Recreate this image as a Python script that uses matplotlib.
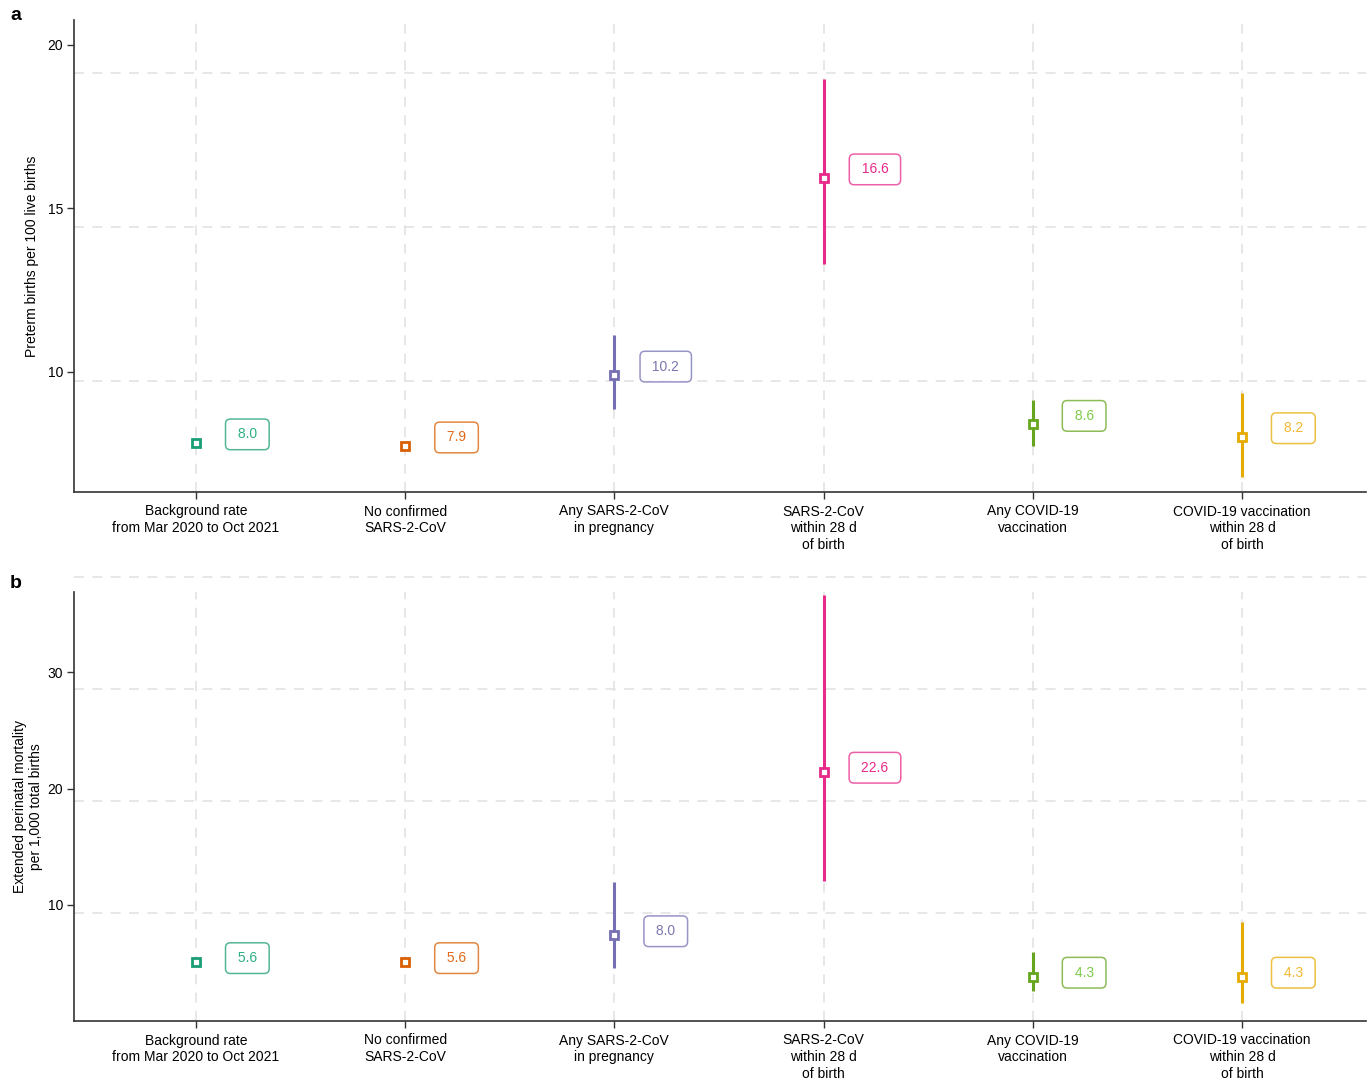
import numpy as np
import matplotlib as mpl

mpl.use("Agg")
import matplotlib.pyplot as plt

plt.rcParams["font.family"] = ["Liberation Sans", "DejaVu Sans"]

categories = [
    "Background rate\nfrom Mar 2020 to Oct 2021",
    "No confirmed\nSARS-2-CoV",
    "Any SARS-2-CoV\nin pregnancy",
    "SARS-2-CoV\nwithin 28 d\nof birth",
    "Any COVID-19\nvaccination",
    "COVID-19 vaccination\nwithin 28 d\nof birth",
]
colors = ["#1B9E77", "#D95F02", "#7570B3", "#E7298A", "#66A61E", "#E6AB02"]
text_colors = ["#2DAF83", "#E0691A", "#7A76B0", "#E7298A", "#7CCB4A", "#F5B733"]

# panel a: preterm births per 100 live births
preterm = [8.0, 7.9, 10.2, 16.6, 8.6, 8.2]
preterm_lo = [7.9, 7.8, 9.1, 13.8, 7.9, 6.9]
preterm_hi = [8.1, 8.0, 11.5, 19.8, 9.4, 9.6]
preterm_ticks = [10, 15, 20]

# panel b: extended perinatal mortality per 1,000 total births
mortality = [5.6, 5.6, 8.0, 22.6, 4.3, 4.3]
mortality_lo = [5.3, 5.3, 5.1, 12.9, 3.0, 2.0]
mortality_hi = [5.9, 5.9, 12.8, 38.4, 6.5, 9.2]
mortality_ticks = [10, 20, 30]

grid_col = "#e3e3e3"


def panel(rect, vals, lo, hi, data_lim, tick_lim, grid_vals, ticks, ylabel,
          ylabel_pad, letter, letter_y, label_dy):
    ax = fig.add_axes(rect)
    x = np.arange(len(vals))
    ax.set_xlim(-0.583, 5.593)
    ax.set_ylim(*data_lim)

    for v in grid_vals:
        ax.axhline(v, color=grid_col, lw=1.2, ls=(0, (6, 5)), zorder=0,
                   clip_on=False)
    for xi in x:
        ax.axvline(xi, color=grid_col, lw=1.2, ls=(0, (6, 5)), zorder=0)

    for xi, v, l, h, c, tc in zip(x, vals, lo, hi, colors, text_colors):
        ax.plot([xi, xi], [l, h], color=c, lw=2.2, solid_capstyle="butt",
                zorder=2)
        ax.plot(xi, v, marker="s", ms=5.5, mfc="white", mec=c, mew=2.0,
                zorder=3)
        ax.annotate(f" {v:.1f} ", (xi, v), xytext=(37, label_dy),
                    textcoords="offset points", ha="center", va="center",
                    fontsize=10, color=tc,
                    bbox=dict(boxstyle="round,pad=0.6,rounding_size=0.35",
                              fc="white", ec=c, lw=1.1, alpha=0.75))

    ax.set_xticks(x)
    ax.set_xticklabels(categories, fontsize=10, linespacing=1.25)
    ax.tick_params(axis="x", length=5, width=1, color="#333333", pad=4)
    ax.set_yticks([])
    for s in ["top", "right"]:
        ax.spines[s].set_visible(False)
    for s in ["left", "bottom"]:
        ax.spines[s].set_color("#333333")
        ax.spines[s].set_linewidth(1.2)

    # tick scale as printed in the figure
    axt = ax.twinx()
    axt.set_ylim(*tick_lim)
    axt.yaxis.tick_left()
    axt.yaxis.set_label_position("left")
    axt.set_yticks(ticks)
    axt.tick_params(axis="y", length=5, width=1, color="#333333",
                    labelsize=10, pad=3)
    for s in axt.spines.values():
        s.set_visible(False)
    axt.set_ylabel(ylabel, fontsize=10, labelpad=ylabel_pad)

    fig.text(10 / 1371, 1 - letter_y / 1079, letter, fontsize=14,
             fontweight="bold", va="center", ha="left")
    return ax


fig = plt.figure(figsize=(13.71, 10.79), dpi=100)

panel([74 / 1371, 1 - 492 / 1079, 1292 / 1371, 472 / 1079],
      preterm, preterm_lo, preterm_hi, (6.40, 21.72), (6.33, 20.76),
      [10, 15, 20], preterm_ticks, "Preterm births per 100 live births", 6,
      "a", 16, 6)

panel([74 / 1371, 1 - 1021 / 1079, 1292 / 1371, 429 / 1079],
      mortality, mortality_lo, mortality_hi, (0.36, 38.66), (0.04, 36.87),
      [10, 20, 30, 40], mortality_ticks,
      "Extended perinatal mortality\nper 1,000 total births", 3,
      "b", 583, 3)

fig.savefig("out.png", dpi=100)
plt.close()
